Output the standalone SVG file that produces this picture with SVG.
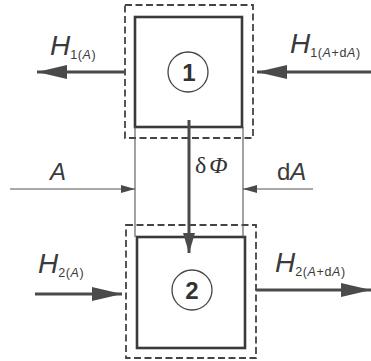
<svg xmlns="http://www.w3.org/2000/svg" width="371" height="361" viewBox="0 0 371 361">
<defs>
<style>
.dash{fill:none;stroke:#444;stroke-width:1.8;stroke-dasharray:7,3.5}
.box{fill:none;stroke:#3a3a3a;stroke-width:2.6}
.thin{fill:none;stroke:#555;stroke-width:1.1}
.flow{fill:none;stroke:#4a4a4a;stroke-width:3}
.circ{fill:none;stroke:#444;stroke-width:1.3}
.num{font-family:"Liberation Sans",Arial,sans-serif;font-weight:bold;font-size:24px;fill:#333;text-anchor:middle}
.H{font-family:"Liberation Sans",Arial,sans-serif;font-style:italic;font-size:28px;fill:#3a3a3a}
.sub{font-family:"Liberation Sans",Arial,sans-serif;font-size:12.5px;letter-spacing:0.6px;fill:#3a3a3a}
.it{font-style:italic}
.lbl{font-family:"Liberation Sans",Arial,sans-serif;font-size:24px;fill:#3a3a3a}
.ser{font-family:"Liberation Serif","Times New Roman",serif;font-size:24px;fill:#333}
</style>
<marker id="big" viewBox="0 0 30 14" refX="30" refY="7" markerWidth="30" markerHeight="14" markerUnits="userSpaceOnUse" orient="auto">
<path d="M0,0 L30,7 L0,14 Z" fill="#4a4a4a"/>
</marker>
<marker id="small" viewBox="0 0 14 8" refX="14" refY="4" markerWidth="14" markerHeight="8" markerUnits="userSpaceOnUse" orient="auto">
<path d="M0,0 L14,4 L0,8 Z" fill="#4a4a4a"/>
</marker>
<marker id="mid" viewBox="0 0 20 12" refX="20" refY="6" markerWidth="20" markerHeight="12" markerUnits="userSpaceOnUse" orient="auto">
<path d="M0,0 L20,6 L0,12 Z" fill="#4a4a4a"/>
</marker>
</defs>
<rect width="371" height="361" fill="#fff"/>
<g id="node1">
<rect class="dash" x="125" y="5" width="128" height="133"/>
<rect class="box" x="135" y="17" width="107" height="110"/>
<circle class="circ" cx="188" cy="72" r="20"/>
<text class="num" x="189" y="81">1</text>
</g>
<g id="node2">
<rect class="dash" x="126" y="225" width="130" height="133"/>
<rect class="box" x="137" y="237" width="108" height="111"/>
<circle class="circ" cx="192" cy="290" r="20"/>
<text class="num" x="192" y="299">2</text>
</g>
<g id="connectors">
<line class="thin" x1="135" y1="127" x2="135" y2="237"/>
<line class="thin" x1="243" y1="127" x2="243" y2="237"/>
<line class="thin" x1="10" y1="189" x2="135" y2="189" marker-end="url(#small)"/>
<line class="thin" x1="313" y1="189" x2="243" y2="189" marker-end="url(#small)"/>
<line class="flow" x1="189" y1="120" x2="189" y2="253" stroke-width="2.4" marker-end="url(#mid)"/>
<line class="flow" x1="125" y1="72" x2="37" y2="72" marker-end="url(#big)"/>
<line class="flow" x1="371" y1="72" x2="257" y2="72" marker-end="url(#big)"/>
<line class="flow" x1="35" y1="294" x2="122" y2="294" marker-end="url(#big)"/>
<line class="flow" x1="256" y1="290" x2="371" y2="290" marker-end="url(#big)"/>
</g>
<g id="labels">
<text class="H" x="50" y="55">H<tspan class="sub" font-style="normal" dy="4">1(<tspan class="it">A</tspan>)</tspan></text>
<text class="H" x="290" y="53">H<tspan class="sub" font-style="normal" dy="4">1(<tspan class="it">A</tspan>+d<tspan class="it">A</tspan>)</tspan></text>
<text class="H" x="38" y="273">H<tspan class="sub" font-style="normal" dy="4">2(<tspan class="it">A</tspan>)</tspan></text>
<text class="H" x="275" y="272">H<tspan class="sub" font-style="normal" dy="4">2(<tspan class="it">A</tspan>+d<tspan class="it">A</tspan>)</tspan></text>
<text class="lbl it" x="50" y="180" font-style="italic">A</text>
<text class="lbl" x="277" y="180">d<tspan font-style="italic">A</tspan></text>
<text class="ser" x="195" y="173">δ<tspan font-style="italic" dx="3">Φ</tspan></text>
</g>
</svg>
